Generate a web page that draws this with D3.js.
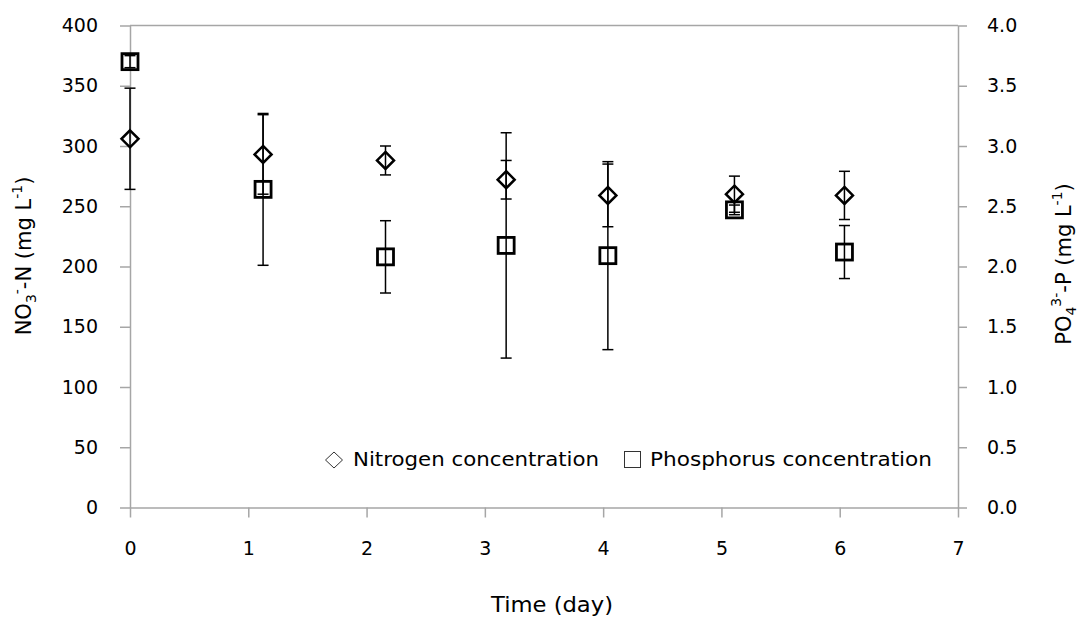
<!DOCTYPE html>
<html>
<head>
<meta charset="utf-8">
<script src="https://cdn.jsdelivr.net/npm/d3@7"></script>
<style>
  body { margin: 0; background: #fff; }
  svg text { font-family: "DejaVu Sans", Verdana, sans-serif; fill: #000; }
</style>
</head>
<body>
<svg id="canvas" width="1080" height="619"></svg>
<script>
// data
var days = [0, 1.125, 2.16, 3.18, 4.04, 5.11, 6.04];
var nitrogen = [306, 293, 288, 272, 259, 260, 259];
var nitrogenErr = [42, 33, 12, 16, 26, 15, 20];
var phosphorus = [3.70, 2.64, 2.08, 2.175, 2.09, 2.47, 2.12];
var phosphorusErr = [0.05, 0.63, 0.30, 0.935, 0.78, 0.04, 0.22];
var xTicks = [0, 1, 2, 3, 4, 5, 6, 7];
var leftTicks = [0, 50, 100, 150, 200, 250, 300, 350, 400];
var rightTicks = [0, 0.5, 1, 1.5, 2, 2.5, 3, 3.5, 4];

var plotLeft = 130, plotRight = 958, plotTop = 25.5, plotBottom = 507.5;
var axisColor = "#a6a6a6";

var svg = d3.select("#canvas");

var xScale = d3.scaleLinear().domain([0, 7]).range([plotLeft, plotRight]);
var yLeft = d3.scaleLinear().domain([0, 400]).range([plotBottom, plotTop]);
var yRight = d3.scaleLinear().domain([0, 4]).range([plotBottom, plotTop]);

var xAxis = d3.axisBottom(xScale).tickValues(xTicks).tickFormat(d3.format("d"))
	.tickSize(10).tickPadding(24).tickSizeOuter(0);
var leftAxis = d3.axisLeft(yLeft).tickValues(leftTicks).tickFormat(d3.format("d"))
	.tickSize(10).tickPadding(22).tickSizeOuter(0);
var rightAxis = d3.axisRight(yRight).tickValues(rightTicks).tickFormat(d3.format(".1f"))
	.tickSize(9).tickPadding(20).tickSizeOuter(0);

// top border of plot area
svg.append("line")
	.attr("x1", plotLeft).attr("x2", plotRight)
	.attr("y1", plotTop).attr("y2", plotTop)
	.attr("stroke", axisColor).attr("stroke-width", 1.5);

svg.append("g").attr("class", "x axis")
	.attr("transform", "translate(0," + plotBottom + ")")
	.call(xAxis);
svg.append("g").attr("class", "y axis")
	.attr("transform", "translate(" + plotLeft + ",0)")
	.call(leftAxis);
svg.append("g").attr("class", "y2 axis")
	.attr("transform", "translate(" + plotRight + ",0)")
	.call(rightAxis);

svg.selectAll(".axis path, .axis line").attr("stroke", axisColor).attr("stroke-width", 1.5);
svg.selectAll(".axis text").attr("font-size", 19).attr("fill", "#000")
	.style("font-family", "'DejaVu Sans', Verdana, sans-serif");

// axis titles
svg.append("text")
	.attr("x", 552).attr("y", 612)
	.attr("text-anchor", "middle").attr("font-size", 21)
	.attr("textLength", 122).attr("lengthAdjust", "spacingAndGlyphs")
	.text("Time (day)");

var lt = svg.append("text")
	.attr("transform", "translate(31,256) rotate(-90)")
	.attr("text-anchor", "middle").attr("font-size", 21);
lt.append("tspan").text("NO");
lt.append("tspan").attr("font-size", 14).attr("dy", 5).text("3");
lt.append("tspan").attr("font-size", 14).attr("dy", -14).text("-");
lt.append("tspan").attr("dy", 9).text("-N (mg L");
lt.append("tspan").attr("font-size", 14).attr("dy", -9).text("-1");
lt.append("tspan").attr("dy", 9).text(")");

var rt = svg.append("text")
	.attr("transform", "translate(1071,264) rotate(-90)")
	.attr("text-anchor", "middle").attr("font-size", 21);
rt.append("tspan").text("PO");
rt.append("tspan").attr("font-size", 14).attr("dy", 5).text("4");
rt.append("tspan").attr("font-size", 14).attr("dy", -15).text("3-");
rt.append("tspan").attr("dy", 10).text("-P (mg L");
rt.append("tspan").attr("font-size", 14).attr("dy", -9).text("-1");
rt.append("tspan").attr("dy", 9).text(")");

// error bars
function errorBars(cls, vals, errs, yScale) {
	var g = svg.append("g").attr("class", cls);
	var d = days.map(function (x, i) { return {x: x, v: vals[i], e: errs[i]}; });
	g.selectAll("line.v").data(d).enter().append("line")
		.attr("x1", function (d) { return xScale(d.x); })
		.attr("x2", function (d) { return xScale(d.x); })
		.attr("y1", function (d) { return yScale(d.v + d.e); })
		.attr("y2", function (d) { return yScale(d.v - d.e); })
		.attr("stroke", "#000").attr("stroke-width", 1.5);
	[1, -1].forEach(function (s) {
		g.selectAll("line.c" + s).data(d).enter().append("line")
			.attr("x1", function (d) { return xScale(d.x) - 5.5; })
			.attr("x2", function (d) { return xScale(d.x) + 5.5; })
			.attr("y1", function (d) { return yScale(d.v + s * d.e); })
			.attr("y2", function (d) { return yScale(d.v + s * d.e); })
			.attr("stroke", "#000").attr("stroke-width", 1.5);
	});
}
errorBars("nerr", nitrogen, nitrogenErr, yLeft);
errorBars("perr", phosphorus, phosphorusErr, yRight);

// markers
var diamond = "M0,-8.5L8.5,0L0,8.5L-8.5,0Z";
svg.append("g").selectAll("path").data(days).enter().append("path")
	.attr("d", diamond)
	.attr("transform", function (d, i) { return "translate(" + xScale(d) + "," + yLeft(nitrogen[i]) + ")"; })
	.attr("fill", "none").attr("stroke", "#000").attr("stroke-width", 2.5);

svg.append("g").selectAll("rect").data(days).enter().append("rect")
	.attr("x", function (d) { return xScale(d) - 8; })
	.attr("y", function (d, i) { return yRight(phosphorus[i]) - 8; })
	.attr("width", 16).attr("height", 16)
	.attr("fill", "none").attr("stroke", "#000").attr("stroke-width", 2.8);

// legend
var legend = svg.append("g").attr("class", "legend");
legend.append("path")
	.attr("d", "M0,-8L8.5,0L0,8L-8.5,0Z")
	.attr("transform", "translate(334,460)")
	.attr("fill", "none").attr("stroke", "#333").attr("stroke-width", 1);
legend.append("text").attr("x", 353).attr("y", 466).attr("font-size", 20)
	.attr("textLength", 246).attr("lengthAdjust", "spacingAndGlyphs")
	.text("Nitrogen concentration");
legend.append("rect")
	.attr("x", 624.5).attr("y", 451.5).attr("width", 16).attr("height", 16)
	.attr("fill", "none").attr("stroke", "#333").attr("stroke-width", 1);
legend.append("text").attr("x", 650).attr("y", 466).attr("font-size", 20)
	.attr("textLength", 282).attr("lengthAdjust", "spacingAndGlyphs")
	.text("Phosphorus concentration");
</script>
</body>
</html>
